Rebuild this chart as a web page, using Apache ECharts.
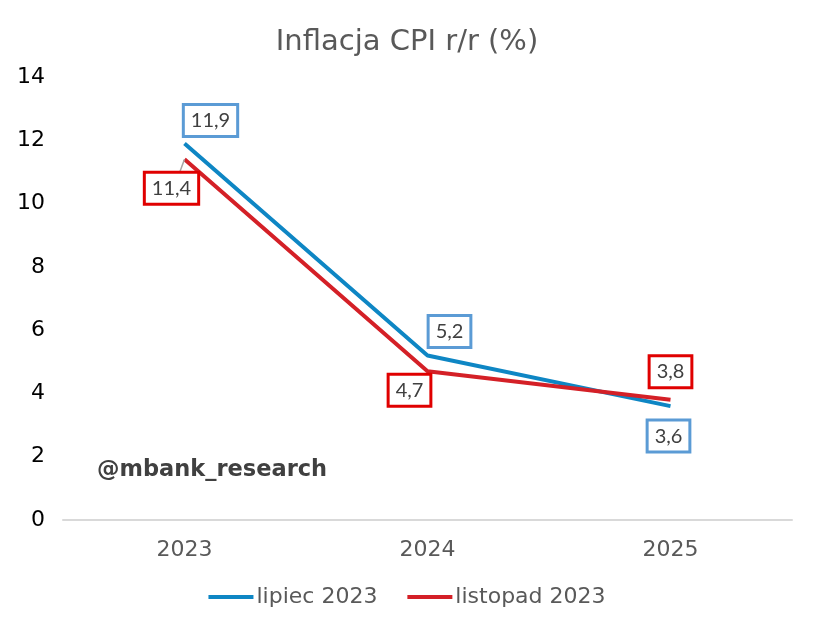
<!DOCTYPE html>
<html><head><meta charset="utf-8">
<script src="https://cdn.jsdelivr.net/npm/echarts@6/dist/echarts.min.js"></script>
<style>html,body{margin:0;padding:0;background:#fff}#c{width:814px;height:630px}</style>
</head><body><div id="c"></div>
<script>
const categories = ['2023', '2024', '2025'];
const lipiec = [11.9, 5.2, 3.6];
const listopad = [11.4, 4.7, 3.8];
const yTicks = [0, 2, 4, 6, 8, 10, 12, 14];

const blueOff = [[26, -23], [22, -24], [-2, 30]];
const redOff = [[-13, 29], [-18, 19], [0, -28]];

const chart = echarts.init(document.getElementById('c'));
const fmt = v => String(v).replace('.', ',');
function mk(vals, offs, leaderIdx) {
  return vals.map((v, i) => {
    const o = {value: v, label: {offset: offs[i]}};
    if (i === leaderIdx) o.labelLine = {show: true, lineStyle: {color: '#a6a6a6', width: 1.5}};
    return o;
  });
}
const labelBase = (border) => ({
  show: true, position: 'inside',
  formatter: p => fmt(p.value),
  fontFamily: 'Lato', fontSize: 20, color: '#404040',
  backgroundColor: '#fff', borderColor: border, borderWidth: 3,
  padding: [5, 6, 4, 6]
});
chart.setOption({
  animation: false,
  title: {text: 'Inflacja CPI r/r (%)', left: 'center', top: 23,
    textStyle: {fontFamily: 'DejaVu Sans', fontSize: 29, fontWeight: 'normal', color: '#595959'}},
  grid: {left: 63, right: 22, top: 77, bottom: 110},
  legend: {bottom: 17, left: 'center', itemWidth: 45, itemHeight: 4, itemGap: 30,
    icon: 'rect',
    textStyle: {fontFamily: 'DejaVu Sans', fontSize: 22, color: '#595959', padding: [0, 0, 0, -2]},
    data: ['lipiec 2023', 'listopad 2023']},
  xAxis: {type: 'category', data: categories, boundaryGap: true,
    axisLine: {lineStyle: {color: '#d9d9d9', width: 2}}, axisTick: {show: false},
    axisLabel: {fontFamily: 'DejaVu Sans', fontSize: 22, color: '#595959', margin: 19}},
  yAxis: {type: 'value', min: yTicks[0], max: yTicks[yTicks.length - 1], interval: 2,
    splitLine: {show: false}, axisLine: {show: false}, axisTick: {show: false},
    axisLabel: {fontFamily: 'DejaVu Sans', fontSize: 22, color: '#000', margin: 18, padding: [3, 0, 0, 0]}},
  graphic: [{type: 'text', left: 97, top: 459,
    style: {text: '@mbank_research', font: 'bold 22.5px "DejaVu Sans"', fill: '#404040'}}],
  series: [
    {name: 'lipiec 2023', type: 'line', data: mk(lipiec, blueOff, -1),
     symbol: 'circle', symbolSize: 0, color: '#0e86c4',
     lineStyle: {width: 4, color: '#0e86c4'}, label: labelBase('#5b9bd5'), z: 2},
    {name: 'listopad 2023', type: 'line', data: mk(listopad, redOff, 0),
     symbol: 'circle', symbolSize: 0, color: '#d42027',
     lineStyle: {width: 4, color: '#d42027'}, label: labelBase('#e00000'), z: 3}
  ]
});
</script></body></html>
